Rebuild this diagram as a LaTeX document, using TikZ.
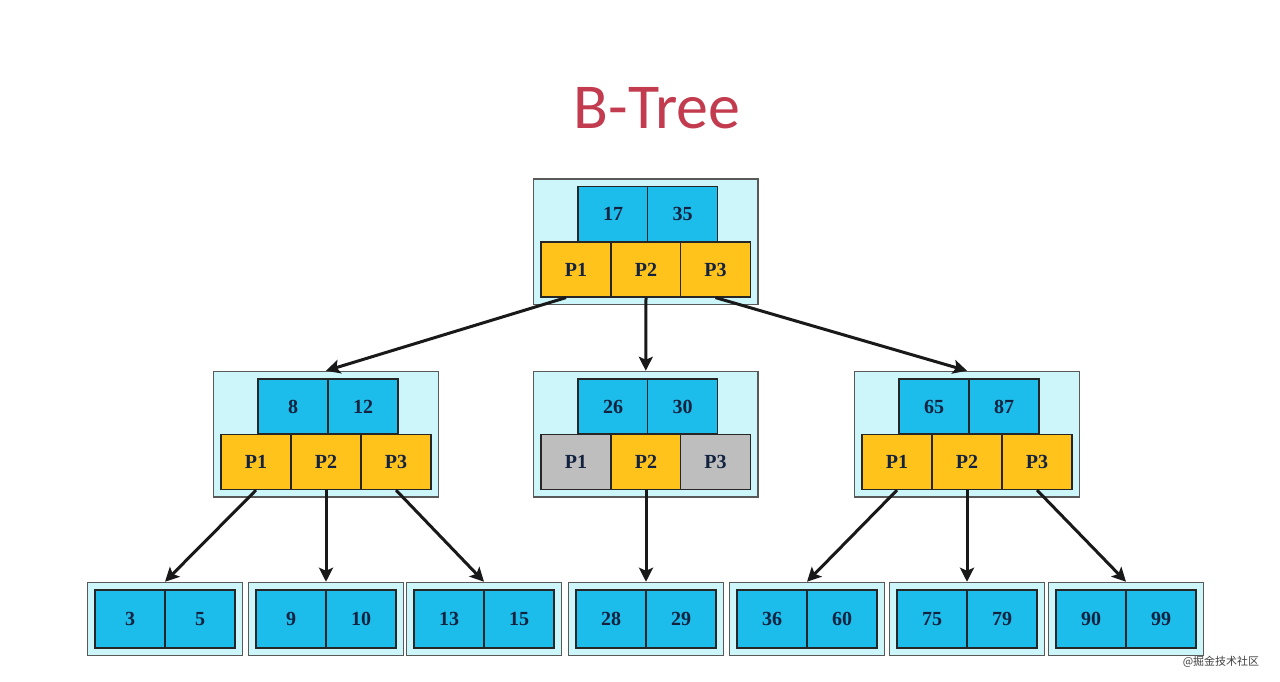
\documentclass[tikz,border=0pt]{standalone}
\usepackage{fontspec}
\setmainfont{Liberation Serif}
\newfontfamily\titlefont{Carlito}
\newfontfamily\cjkfont{Noto Sans CJK SC}
\usetikzlibrary{arrows.meta,fit,backgrounds}
\definecolor{keyblue}{HTML}{1CBDEB}
\definecolor{ptrgold}{HTML}{FFC31C}
\definecolor{ptrgray}{HTML}{BEBEBE}
\definecolor{boxcyan}{HTML}{CDF6FB}
\definecolor{cellink}{HTML}{13223F}
\definecolor{titlered}{HTML}{C23B4E}
\tikzset{
  btcell/.style={draw=black!85, line width=1.2pt, minimum width=70pt, minimum height=55pt,
    inner sep=0pt, text=cellink, font=\fontsize{20}{20}\selectfont\bfseries},
  btkey/.style={btcell, fill=keyblue},
  btptr/.style={btcell, fill=ptrgold},
  btoff/.style={btcell, fill=ptrgray},
  btleaf/.style={btkey, minimum height=58pt},
  btframe/.style={draw=black!65, line width=1.3pt, fill=boxcyan, inner sep=7pt},
  btarrow/.style={-{Stealth[length=14pt,width=14pt,inset=3pt]}, line width=3pt, draw=black!90}
}

\begin{document}
\begin{tikzpicture}[x=1pt,y=-1pt]
  \useasboundingbox (0,0) rectangle (1280,681);
  \node[font=\titlefont\fontsize{64}{64}\selectfont, text=titlered] (title) at (657,108) {B-Tree};
  % root
  \node[btkey] (r-k1) at (613,214) {17};
  \node[btkey] (r-k2) at (682.5,214) {35};
  \node[btptr] (r-p1) at (576,269.5) {P1};
  \node[btptr] (r-p2) at (646,269.5) {P2};
  \node[btptr] (r-p3) at (715.5,269.5) {P3};
  % second level
  \node[btkey] (a-k1) at (293,406.5) {8};
  \node[btkey] (a-k2) at (363,406.5) {12};
  \node[btptr] (a-p1) at (256,462) {P1};
  \node[btptr] (a-p2) at (326,462) {P2};
  \node[btptr] (a-p3) at (396,462) {P3};
  \node[btkey] (b-k1) at (613,406.5) {26};
  \node[btkey] (b-k2) at (682.5,406.5) {30};
  \node[btoff] (b-p1) at (576,462) {P1};
  \node[btptr] (b-p2) at (646,462) {P2};
  \node[btoff] (b-p3) at (715.5,462) {P3};
  \node[btkey] (c-k1) at (934,406.5) {65};
  \node[btkey] (c-k2) at (1004,406.5) {87};
  \node[btptr] (c-p1) at (897,462) {P1};
  \node[btptr] (c-p2) at (967,462) {P2};
  \node[btptr] (c-p3) at (1037,462) {P3};
  % leaves
  \foreach \x/\ka/\kb/\n in {130/3/5/1, 291/9/10/2, 449/13/15/3, 611/28/29/4,
                             772/36/60/5, 932/75/79/6, 1091/90/99/7} {
    \node[btleaf] (l\n-a) at (\x,619) {\ka};
    \node[btleaf] (l\n-b) at (\x+70,619) {\kb};
  }
  \begin{scope}[on background layer]
    \node[btframe, fit=(r-k1)(r-p1)(r-p3)] (root) {};
    \node[btframe, fit=(a-k1)(a-p1)(a-p3)] (left) {};
    \node[btframe, fit=(b-k1)(b-p1)(b-p3)] (mid) {};
    \node[btframe, fit=(c-k1)(c-p1)(c-p3)] (right) {};
    \foreach \n in {1,...,7}
      \node[btframe, fit=(l\n-a)(l\n-b)] (leaf\n) {};
  \end{scope}
  \draw[btarrow] ([xshift=-10pt]r-p1.south) -- (left.north);
  \draw[btarrow] (r-p2.south) -- (mid.north);
  \draw[btarrow] (r-p3.south) -- (right.north);
  \draw[btarrow] (a-p1.south) -- (leaf1.north);
  \draw[btarrow] (a-p2.south) -- (leaf2.north);
  \draw[btarrow] (a-p3.south) -- (leaf3.north);
  \draw[btarrow] (b-p2.south) -- (leaf4.north);
  \draw[btarrow] (c-p1.south) -- (leaf5.north);
  \draw[btarrow] (c-p2.south) -- (leaf6.north);
  \draw[btarrow] (c-p3.south) -- (leaf7.north);
  \node[font=\cjkfont\fontsize{11}{11}\selectfont, text=black!75] (mark) at (1221,662) {@掘金技术社区};
\end{tikzpicture}
\end{document}
